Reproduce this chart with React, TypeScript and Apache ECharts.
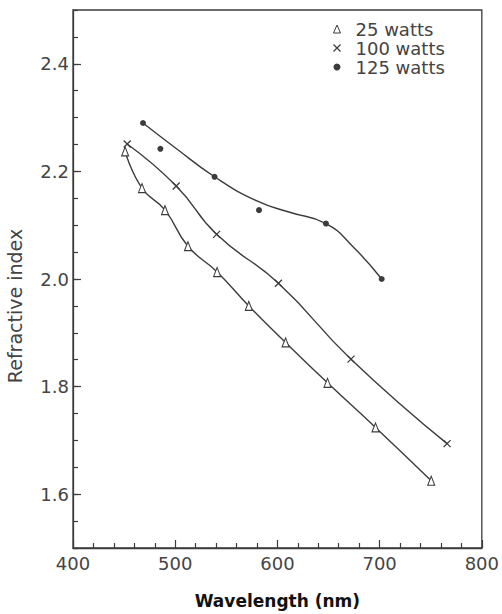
import React, { useEffect, useRef } from "react";
import * as echarts from "echarts";

// Measured points (wavelength in nm, refractive index)
const wavelength25 = [451, 467.5, 490, 512.5, 541, 572, 608, 649, 696, 750.5];
const index25 = [2.237, 2.169, 2.128, 2.061, 2.013, 1.95, 1.882, 1.807, 1.724, 1.625];
const wavelength100 = [453, 501, 540.5, 601, 672, 766];
const index100 = [2.251, 2.173, 2.083, 1.992, 1.851, 1.694];
const wavelength125 = [468.5, 485.5, 538.5, 582, 647.5, 702];
const index125 = [2.29, 2.242, 2.19, 2.128, 2.103, 2.0];
// Hand-drawn fitted curve for 125 watts
const fitWavelength125 = [468.5, 500, 538.5, 580, 612, 647.5, 673, 702];
const fitIndex125 = [2.29, 2.244, 2.19, 2.145, 2.124, 2.103, 2.062, 2.0];

const seriesNames = ["25 watts", "100 watts", "125 watts"];
const yTickValues = [1.6, 1.8, 2.0, 2.2, 2.4];
const xAxisTitle = "Wavelength (nm)";
const yAxisTitle = "Refractive index";

const INK = "#3c3c3c";
const FONT = "DejaVu Sans";
const CROSS = "path://M0,0L10,10M10,0L0,10";

const pairs = (xs: number[], ys: number[]) => xs.map((x, i) => [x, ys[i]]);

export default function App() {
  const ref = useRef<HTMLDivElement>(null);
  useEffect(() => {
    if (!ref.current) return;
    const chart = echarts.init(ref.current, null, { renderer: "svg" });
    const lineStyle = { color: INK, width: 1.4 };
    chart.setOption({
      animation: false,
      backgroundColor: "#ffffff",
      textStyle: { fontFamily: FONT },
      grid: {
        left: 73,
        right: 19,
        top: 10,
        bottom: 66,
        show: true,
        borderColor: INK,
        borderWidth: 1.3,
      },
      legend: {
        orient: "vertical",
        left: 326,
        top: 15,
        itemWidth: 7,
        itemHeight: 8,
        itemGap: 1,
        selectedMode: false,
        textStyle: { fontSize: 18, color: "#444", fontFamily: FONT, padding: [0, 0, 0, 10] },
        data: [
          { name: seriesNames[0], icon: "triangle", itemStyle: { color: "#fff", borderColor: INK, borderWidth: 1 } },
          { name: seriesNames[1], icon: CROSS, itemStyle: { color: "none", borderColor: INK, borderWidth: 1.2 } },
          { name: seriesNames[2], icon: "circle", itemStyle: { color: INK, borderWidth: 0 } },
        ],
      },
      xAxis: {
        type: "value",
        min: 400,
        max: 800,
        interval: 100,
        name: xAxisTitle,
        nameLocation: "middle",
        nameGap: 44,
        nameTextStyle: { fontSize: 17, fontWeight: "bold", color: "#111", fontFamily: FONT },
        axisLine: { show: true, lineStyle: { color: INK, width: 1.3 } },
        axisTick: { show: true, inside: true, length: 8, lineStyle: { color: INK, width: 1.2 } },
        minorTick: { show: true, splitNumber: 5, length: 5, lineStyle: { color: INK, width: 1.2 } },
        axisLabel: { fontSize: 18, color: "#444", margin: 6, fontFamily: FONT },
        splitLine: { show: false },
      },
      yAxis: [
        {
          type: "value",
          min: 1.5,
          max: 2.5,
          interval: 0.1,
          position: "left",
          axisLine: { show: true, lineStyle: { color: INK, width: 1.3 } },
          axisTick: { show: true, inside: true, length: 8, customValues: yTickValues, lineStyle: { color: INK, width: 1.2 } },
          axisLabel: {
            fontSize: 18,
            color: "#444",
            margin: 4,
            fontFamily: FONT,
            customValues: yTickValues,
            formatter: (v: number) => v.toFixed(1),
          },
          splitLine: { show: false },
        },
        {
          type: "value",
          min: 1.5,
          max: 2.5,
          interval: 0.05,
          position: "left",
          axisLine: { show: false },
          axisTick: { show: true, inside: true, length: 5, lineStyle: { color: INK, width: 1.2 } },
          axisLabel: { show: false },
          splitLine: { show: false },
        },
      ],
      graphic: [
        {
          type: "text",
          x: 15,
          y: 306,
          rotation: Math.PI / 2,
          style: {
            text: yAxisTitle,
            fontSize: 19,
            fill: "#444",
            fontFamily: FONT,
            align: "center",
            verticalAlign: "middle",
          },
        },
      ],
      series: [
        {
          name: "25 watts curve",
          type: "line",
          data: pairs(wavelength25, index25),
          smooth: 0.5,
          showSymbol: false,
          symbol: "none",
          lineStyle,
          silent: true,
          z: 2,
        },
        {
          name: "100 watts curve",
          type: "line",
          data: pairs(wavelength100, index100),
          smooth: 0.5,
          showSymbol: false,
          symbol: "none",
          lineStyle,
          silent: true,
          z: 2,
        },
        {
          name: "125 watts curve",
          type: "line",
          data: pairs(fitWavelength125, fitIndex125),
          smooth: 0.5,
          showSymbol: false,
          symbol: "none",
          lineStyle,
          silent: true,
          z: 2,
        },
        {
          name: seriesNames[0],
          type: "scatter",
          data: pairs(wavelength25, index25),
          symbol: "triangle",
          symbolSize: [7, 9],
          itemStyle: { color: "#fff", borderColor: INK, borderWidth: 1.1, opacity: 1 },
          z: 3,
        },
        {
          name: seriesNames[1],
          type: "scatter",
          data: pairs(wavelength100, index100),
          symbol: CROSS,
          symbolSize: 7,
          itemStyle: { color: "none", borderColor: INK, borderWidth: 1.3, opacity: 1 },
          z: 3,
        },
        {
          name: seriesNames[2],
          type: "scatter",
          data: pairs(wavelength125, index125),
          symbol: "circle",
          symbolSize: 6,
          itemStyle: { color: INK, opacity: 1 },
          z: 3,
        },
      ],
    });
    return () => chart.dispose();
  }, []);
  return (
    <div
      ref={ref}
      style={{ position: "absolute", left: 0, top: 0, width: 502, height: 614 }}
    />
  );
}
